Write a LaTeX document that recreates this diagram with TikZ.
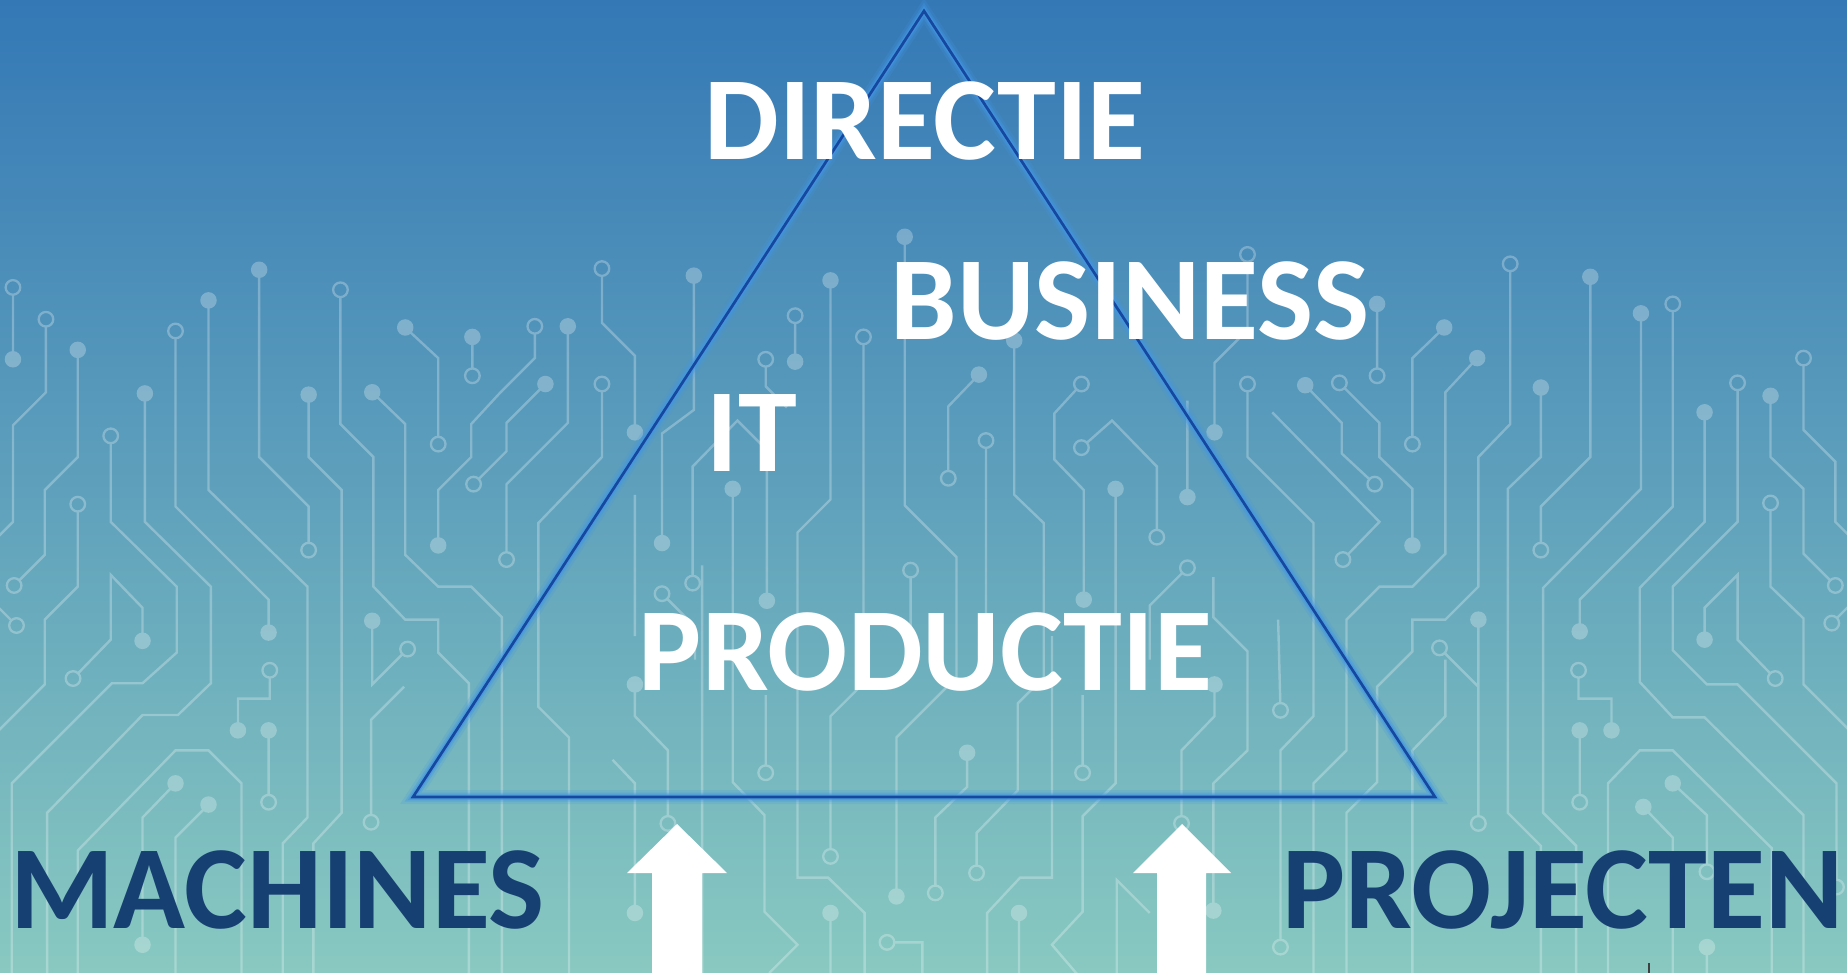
\documentclass[tikz,border=0pt]{standalone}
\usepackage{fontspec}
\setmainfont{Carlito}
\definecolor{bgtop}{RGB}{52,120,182}
\definecolor{bgmid}{RGB}{100,166,190}
\definecolor{bgbot}{RGB}{137,201,193}
\definecolor{tri}{RGB}{22,72,160}
\definecolor{glowc}{RGB}{66,150,228}
\definecolor{navy}{RGB}{23,64,114}
\def\TD(#1,#2){\fill[fill=white] (#1,#2) circle[radius=7];}
\def\TR(#1,#2){\draw[draw=white,line width=2.3pt] (#1,#2) circle[radius=6.2];}
\begin{document}
\begin{tikzpicture}[x=1pt,y=-1pt,
  tr/.style={draw=white,line width=2.4pt,line join=miter},
  os/.style={shorten <=7.3pt},
  oe/.style={shorten >=7.3pt},
  lbl/.style={font=\fontsize{118.7}{120}\selectfont\bfseries,inner sep=0pt,anchor=base}]
\useasboundingbox (0,0) rectangle (1847,973);
\clip (0,0) rectangle (1847,973);
\shade[top color=bgtop, middle color=bgmid, bottom color=bgbot] (0,0) rectangle (1847,973);
% circuit pattern
\begin{scope}[scale=1.178, transparency group, opacity=0.27]
\draw[tr,os] (11,244)--(11,305); \TR(11,244) \TD(11,305)
\draw[tr,os] (39,271)--(39,333)--(11,361)--(11,443)--(-6,460); \TR(39,271)
\draw[tr,oe] (66,297)--(66,388)--(38,416)--(38,471)--(12,497); \TD(66,297) \TR(12,497)
\draw[tr,os] (94,370)--(94,443)--(150,498)--(150,554)--(121,580)--(95,580)--(10,665)--(10,830); \TR(94,370)
\draw[tr] (123,334)--(123,443)--(179,498)--(179,580)--(151,607)--(121,607)--(40,690)--(40,830); \TD(123,334)
\draw[tr,os] (149,281)--(149,430)--(228,509)--(228,537); \TR(149,281) \TD(228,537)
\draw[tr] (177,255)--(177,416)--(261,498)--(261,694)--(240,716)--(240,830); \TD(177,255)
\draw[tr,oe] (220,229)--(220,388)--(262,430)--(262,467); \TD(220,229) \TR(262,467)
\draw[tr] (262,335)--(262,388)--(290,416)--(290,690)--(266,716)--(266,830); \TD(262,335)
\draw[tr,os] (289,246)--(289,360)--(317,388)--(317,498)--(344,526)--(372,526)--(372,554)--(398,580)--(398,830); \TR(289,246)
\draw[tr] (316,333)--(344,360)--(344,471)--(372,498)--(400,498)--(426,524)--(426,830); \TD(316,333)
\draw[tr,oe] (344,278)--(372,304)--(372,377); \TD(344,278) \TR(372,377)
\draw[tr,oe] (401,286)--(401,319); \TD(401,286) \TR(401,319)
\draw[tr,os] (454,277)--(454,304)--(424,334)--(400,360)--(400,388)--(372,416)--(372,463); \TR(454,277) \TD(372,463)
\draw[tr,oe] (463,326)--(430,359)--(430,383)--(402,411); \TD(463,326) \TR(402,411)
\draw[tr,oe] (482,277)--(482,359)--(430,411)--(430,475); \TD(482,277) \TR(430,475)
\draw[tr,os] (14,531)--(-4,513); \TR(14,531)
\draw[tr,os] (66,428)--(66,498)--(38,526)--(38,581)--(-4,623); \TR(66,428)
\draw[tr,os] (62,576)--(94,543)--(94,488)--(121,516)--(121,544); \TR(62,576) \TD(121,544)
\draw[tr,oe] (316,527)--(316,581)--(346,551); \TD(316,527) \TR(346,551)
\draw[tr,oe] (343,583)--(315,611)--(315,698); \TR(315,698)
\draw[tr,os] (229,569)--(229,593)--(202,593)--(202,620); \TR(229,569) \TD(202,620)
\draw[tr,oe] (228,620)--(228,681); \TD(228,620) \TR(228,681)
\draw[tr] (149,665)--(121,694)--(121,802); \TD(149,665) \TD(121,802)
\draw[tr] (177,683)--(149,711)--(149,830); \TD(177,683)
\draw[tr] (205,830)--(205,665)--(177,637)--(149,637)--(66,722)--(66,830);
\draw[tr,os] (511,326)--(511,388)--(457,444)--(457,600)--(483,626)--(483,830); \TR(511,326)
% middle
\draw[tr,os] (511,228)--(511,274)--(539,302)--(539,367); \TR(511,228) \TD(539,367)
\draw[tr] (589,234)--(589,348)--(562,368)--(562,461); \TD(589,234) \TD(562,461)
\draw[tr,os] (675,268)--(675,307); \TR(675,268) \TD(675,307)
\draw[tr,os] (650,305)--(650,328)--(668,346); \TR(650,305)
\draw[tr] (705,238)--(705,424)--(677,452)--(677,745)--(703,745)--(734,775)--(734,830); \TD(705,238)
\draw[tr,os,oe] (733,286)--(733,580)--(705,608)--(705,727); \TR(733,286) \TR(705,727)
\draw[tr] (768,201)--(768,429)--(812,473)--(812,575)--(761,626)--(761,761); \TD(768,201) \TD(761,761)
\draw[tr,oe] (861,289)--(861,420)--(886,444)--(886,575)--(864,597)--(864,671)--(829,707)--(829,741); \TD(861,289) \TR(829,741)
\draw[tr,oe] (821,639)--(821,668)--(794,694)--(794,758); \TD(821,639) \TR(794,758)
\draw[tr,oe] (831,318)--(805,345)--(805,406); \TD(831,318) \TR(805,406)
\draw[tr,os] (837,374)--(837,540); \TR(837,374)
\draw[tr] (622,415)--(622,664)--(649,692)--(649,774)--(677,802)--(653,826); \TD(622,415)
\draw[tr,os] (588,495)--(588,396)--(626,357)--(651,382)--(651,510); \TR(588,495) \TD(651,510)
\draw[tr,os] (650,656)--(650,590); \TR(650,656)
\draw[tr,os] (918,326)--(895,351)--(895,390)--(920,416)--(920,509); \TR(918,326) \TD(920,509)
\draw[tr,os,oe] (918,380)--(944,357)--(982,396)--(982,456); \TR(918,380) \TR(982,456)
\draw[tr] (947,415)--(947,665)--(919,693)--(919,774)--(893,802)--(917,830); \TD(947,415)
\draw[tr] (1008,422)--(1008,340); \TD(1008,422)
\draw[tr,os] (1008,482)--(976,514)--(976,560); \TR(1008,482)
\draw[tr,os] (1059,216)--(1059,280)--(1031,308)--(1031,367); \TR(1059,216) \TD(1031,367)
\draw[tr,os,oe] (1059,326)--(1059,388)--(1115,444)--(1115,608)--(1087,637)--(1087,804); \TR(1059,326) \TR(1087,804)
\draw[tr] (539,420)--(539,540);
\draw[tr,os] (562,504)--(590,532)--(590,560); \TR(562,504)
\draw[tr,os] (773,484)--(773,560); \TR(773,484)
% bottom middle
\draw[tr,oe] (539,581)--(539,608)--(567,637)--(567,699); \TD(539,581) \TR(567,699)
\draw[tr] (520,645)--(539,665)--(539,775); \TD(539,775)
\draw[tr] (596,480)--(596,830);
\draw[tr] (705,775)--(705,830); \TD(705,775)
\draw[tr,os] (753,800)--(783,800)--(783,830); \TR(753,800)
\draw[tr] (865,775)--(865,830); \TD(865,775)
\draw[tr] (893,540)--(893,745)--(866,745)--(838,775)--(838,830);
\draw[tr,os] (919,656)--(919,590); \TR(919,656)
\draw[tr] (948,830)--(948,747)--(976,775);
\draw[tr,oe] (1031,581)--(1031,608)--(1003,637)--(1003,699); \TD(1031,581) \TR(1003,699)
\draw[tr] (1030,490)--(1030,524)--(1059,553)--(1059,637)--(1030,665)--(1030,773); \TD(1030,773)
\draw[tr,oe] (1085,526)--(1087,603); \TR(1087,603)
% right
\draw[tr,oe] (1169,258)--(1169,319); \TD(1169,258) \TR(1169,319)
\draw[tr,oe] (1226,278)--(1199,304)--(1199,377); \TD(1226,278) \TR(1199,377)
\draw[tr] (1254,304)--(1227,333)--(1227,470)--(1199,498)--(1171,498)--(1143,526)--(1143,637)--(1115,665)--(1115,830); \TD(1254,304)
\draw[tr,os] (1282,224)--(1282,360)--(1255,388)--(1255,498)--(1227,526)--(1199,526)--(1199,553)--(1169,583)--(1169,664)--(1143,690)--(1143,830); \TR(1282,224)
\draw[tr] (1308,329)--(1308,388)--(1280,415)--(1280,690)--(1308,718)--(1308,830); \TD(1308,329)
\draw[tr,oe] (1350,235)--(1350,388)--(1308,430)--(1308,467); \TD(1350,235) \TR(1308,467)
\draw[tr] (1393,266)--(1393,415)--(1310,499)--(1310,690)--(1338,718)--(1338,830); \TD(1393,266)
\draw[tr,os] (1420,258)--(1420,430)--(1341,509)--(1341,536); \TR(1420,258) \TD(1341,536)
\draw[tr] (1447,350)--(1447,443)--(1392,499)--(1392,579)--(1420,609)--(1447,609)--(1531,692)--(1531,830); \TD(1447,350)
\draw[tr,os,oe] (1475,325)--(1475,443)--(1420,498)--(1420,552)--(1449,581)--(1475,581)--(1559,665)--(1559,753); \TR(1475,325) \TR(1559,753)
\draw[tr,oe] (1503,336)--(1503,388)--(1531,415)--(1531,470)--(1558,497); \TD(1503,336) \TR(1558,497)
\draw[tr,os] (1531,304)--(1531,365)--(1558,392)--(1558,443)--(1572,457); \TR(1531,304)
\draw[tr,os] (1503,427)--(1503,498)--(1531,525)--(1531,581)--(1572,622); \TR(1503,427)
\draw[tr,oe] (1447,543)--(1447,516)--(1475,488)--(1475,543)--(1507,576); \TD(1447,543) \TR(1507,576)
\draw[tr,os] (1555,529)--(1572,512); \TR(1555,529)
\draw[tr,oe] (1108,327)--(1139,359)--(1139,385)--(1167,411); \TD(1108,327) \TR(1167,411)
\draw[tr,os] (1137,325)--(1171,359)--(1171,388)--(1199,415)--(1199,463); \TR(1137,325) \TD(1199,463)
\draw[tr,oe] (1080,350)--(1171,443)--(1140,475); \TR(1140,475)
\draw[tr,oe] (1255,526)--(1255,699); \TD(1255,526) \TR(1255,699)
\draw[tr,os] (1222,550)--(1255,583); \TR(1222,550)
\draw[tr] (1227,560)--(1227,608)--(1199,637)--(1199,830);
\draw[tr,os] (1340,569)--(1340,593)--(1368,593)--(1368,620); \TR(1340,569) \TD(1368,620)
\draw[tr,oe] (1341,620)--(1341,681); \TD(1341,620) \TR(1341,681)
\draw[tr] (1365,830)--(1365,665)--(1392,637)--(1420,637)--(1504,720)--(1504,830);
\draw[tr,oe] (1420,665)--(1449,692)--(1449,740); \TD(1420,665) \TR(1449,740)
\draw[tr] (1395,685)--(1420,711)--(1420,830); \TD(1395,685)
\draw[tr] (1449,804)--(1449,830); \TD(1449,804)
\end{scope}
% triangle
\coordinate (apex) at (924,11);
\coordinate (bl) at (413,797);
\coordinate (br) at (1435,797);
\draw[glowc, line width=14pt, opacity=0.2, line join=miter] (apex)--(bl)--(br)--cycle;
\draw[glowc, line width=9pt, opacity=0.35, line join=miter] (apex)--(bl)--(br)--cycle;
\draw[glowc, line width=5.5pt, opacity=0.6, line join=miter] (apex)--(bl)--(br)--cycle;
\draw[tri, line width=2.7pt, line join=miter] (apex)--(bl)--(br)--cycle;
% texts
\node[lbl,white] (directie) at (925,160) {DIRECTIE};
\node[lbl,white] (business) at (1130,340) {BUSINESS};
\node[lbl,white] (it) at (752,471.5) {IT};
\node[lbl,white] (productie) at (925.5,690) {PRODUCTIE};
\node[lbl,navy] (machines) at (277.5,928) {MACHINES};
\node[lbl,navy] (projecten) at (1563,928) {PROJECTEN};
% arrows
\coordinate (la) at (677,824);
\coordinate (ra) at (1182,824);
\fill[white] (la) -- (727,873) -- (702,873) -- (702,980) -- (652,980) -- (652,873) -- (627,873) -- cycle;
\fill[white] (ra) -- (1231,873) -- (1206,873) -- (1206,980) -- (1157,980) -- (1157,873) -- (1133,873) -- cycle;
% tick
\draw[black!75, line width=1.3pt] (1649,963)--(1649,975);
\end{tikzpicture}
\end{document}
